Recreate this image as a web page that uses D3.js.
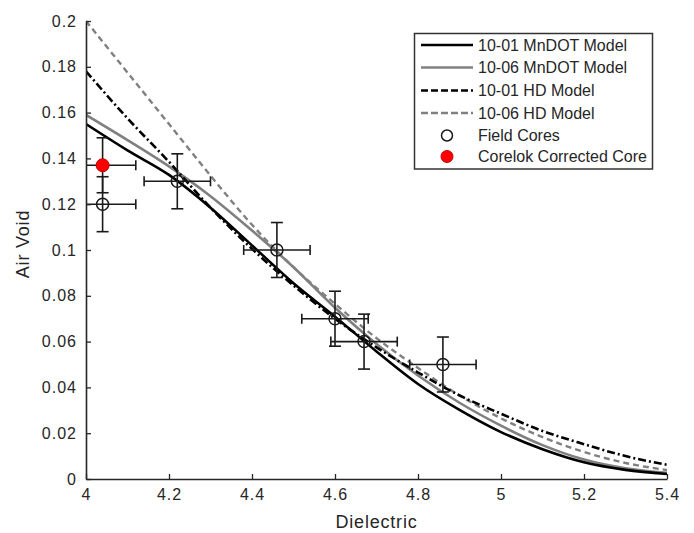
<!DOCTYPE html>
<html><head><meta charset="utf-8">
<script src="https://cdn.jsdelivr.net/npm/d3@7/dist/d3.min.js"></script>
<style>
html,body{margin:0;padding:0;background:#fff;}
text{font-family:"Liberation Sans",Arial,Helvetica,sans-serif;fill:#262626;}
</style></head>
<body>
<svg id="chart" width="694" height="533"></svg>
<script>
// ---- data ----
const dielectric = [4.0,4.1,4.2,4.3,4.4,4.5,4.6,4.7,4.8,4.9,5.0,5.1,5.2,5.3,5.4];
const mndot1001 = [0.155,0.1435,0.1328,0.1185,0.1020,0.0855,0.0709,0.0557,0.0415,0.0302,0.0205,0.0130,0.0073,0.0040,0.0022];
const mndot1006 = [0.159,0.148,0.1365,0.1235,0.1085,0.0925,0.0748,0.059,0.0452,0.0333,0.0233,0.0148,0.0085,0.0047,0.0027];
const hd1001 = [0.178,0.1575,0.1385,0.1185,0.1005,0.0845,0.0700,0.0575,0.0465,0.0365,0.0285,0.0210,0.0152,0.0100,0.0062];
const hd1006 = [0.200,0.1775,0.155,0.1325,0.111,0.0925,0.0765,0.0615,0.0485,0.0365,0.0265,0.0183,0.0118,0.0070,0.0039];
const coreX = [4.04,4.22,4.46,4.60,4.67,4.86];
const coreY = [0.12,0.13,0.10,0.07,0.06,0.05];
const coreXErr = [0.08,0.08,0.08,0.08,0.08,0.08];
const coreYErr = [0.012,0.012,0.012,0.012,0.012,0.012];
const corelokX = [4.04];
const corelokY = [0.137];
const corelokXErr = [0.08];
const corelokYErr = [0.012];
const xTicks = [4,4.2,4.4,4.6,4.8,5,5.2,5.4];
const yTicks = [0,0.02,0.04,0.06,0.08,0.1,0.12,0.14,0.16,0.18,0.2];
const legendLabels = ["10-01 MnDOT Model","10-06 MnDOT Model","10-01 HD Model","10-06 HD Model","Field Cores","Corelok Corrected Core"];

// ---- layout ----
const svg = d3.select("#chart");
const L = 86, R = 667, T = 21, B = 479;
const x = d3.scaleLinear().domain([4,5.4]).range([L,R]);
const y = d3.scaleLinear().domain([0,0.2]).range([B,T]);
const GREY = "#808080", AX = "#262626";

svg.append("defs").append("clipPath").attr("id","clip")
  .append("rect").attr("x",L).attr("y",T-2).attr("width",R-L+2).attr("height",B-T+2);

const plot = svg.append("g").attr("clip-path","url(#clip)");

const series = [
  {vals: mndot1001, color:"#000", w:2.6, dash:null},
  {vals: mndot1006, color:GREY, w:2.6, dash:null},
  {vals: hd1001, color:"#000", w:2.6, dash:"8,3,2,3"},
  {vals: hd1006, color:GREY, w:2.4, dash:"6,4"}
];
const line = d3.line().curve(d3.curveMonotoneX);
// draw order: grey first so black on top similar to reference
[series[3],series[1],series[2],series[0]].forEach(s=>{
  plot.append("path")
    .attr("d", line(dielectric.map((d,i)=>[x(d), y(s.vals[i])])))
    .attr("fill","none").attr("stroke",s.color).attr("stroke-width",s.w)
    .attr("stroke-dasharray",s.dash);
});

function errorBars(xs, ys, xe, ye){
  const g = plot.append("g").attr("stroke","#1a1a1a").attr("stroke-width",1.6).attr("fill","none");
  xs.forEach((xv,i)=>{
    const cx=x(xv), cy=y(ys[i]);
    const x0=x(xv-xe[i]), x1=x(xv+xe[i]), y0=y(ys[i]-ye[i]), y1=y(ys[i]+ye[i]);
    g.append("line").attr("x1",x0).attr("x2",x1).attr("y1",cy).attr("y2",cy);
    g.append("line").attr("x1",x0).attr("x2",x0).attr("y1",cy-5).attr("y2",cy+5);
    g.append("line").attr("x1",x1).attr("x2",x1).attr("y1",cy-5).attr("y2",cy+5);
    g.append("line").attr("x1",cx).attr("x2",cx).attr("y1",y0).attr("y2",y1);
    g.append("line").attr("x1",cx-6).attr("x2",cx+6).attr("y1",y0).attr("y2",y0);
    g.append("line").attr("x1",cx-6).attr("x2",cx+6).attr("y1",y1).attr("y2",y1);
  });
}
errorBars(coreX, coreY, coreXErr, coreYErr);
errorBars(corelokX, corelokY, corelokXErr, corelokYErr);

plot.selectAll("circle.core").data(coreX).enter().append("circle")
  .attr("cx",(d)=>x(d)).attr("cy",(d,i)=>y(coreY[i])).attr("r",6)
  .attr("fill","none").attr("stroke","#1a1a1a").attr("stroke-width",1.5);
plot.selectAll("circle.corelok").data(corelokX).enter().append("circle")
  .attr("cx",(d)=>x(d)).attr("cy",(d,i)=>y(corelokY[i])).attr("r",6.5)
  .attr("fill","#ff0000").attr("stroke","#c00000").attr("stroke-width",1);

// ---- axes ----
const xAxis = d3.axisBottom(x).tickValues(xTicks).tickSizeInner(-5).tickSizeOuter(0)
  .tickPadding(10).tickFormat(d3.format("~g"));
const gx = svg.append("g").attr("transform",`translate(0,${B})`).call(xAxis);
const yAxis = d3.axisLeft(y).tickValues(yTicks).tickSizeInner(-5).tickSizeOuter(0)
  .tickPadding(9).tickFormat(d3.format("~g"));
const gy = svg.append("g").attr("transform",`translate(${L},0)`).call(yAxis);
[gx,gy].forEach(g=>{
  g.select(".domain").attr("stroke",AX).attr("stroke-width",1.6);
  g.selectAll(".tick line").attr("stroke",AX).attr("stroke-width",1.3);
  g.selectAll("text").attr("font-size",16).attr("fill",AX)
    .attr("font-family","Liberation Sans, Arial, sans-serif").style("letter-spacing","1px");
});
gx.selectAll("text").attr("dy","0.71em");

svg.append("text").attr("x",(L+R)/2).attr("y",528).attr("text-anchor","middle")
  .attr("font-size",18).style("letter-spacing","0.8px").text("Dielectric");
svg.append("text").attr("transform",`translate(29,${(T+B)/2 - 6}) rotate(-90)`)
  .attr("text-anchor","middle").attr("font-size",18).style("letter-spacing","0.8px").text("Air Void");

// ---- legend ----
const lg = svg.append("g");
lg.append("rect").attr("x",414.5).attr("y",33.5).attr("width",238).attr("height",135.5)
  .attr("fill","#fff").attr("stroke","#333").attr("stroke-width",1.5);
const rowY = [45,67.5,90.5,113,135.5,156.5];
series.forEach((s,i)=>{
  lg.append("line").attr("x1",421).attr("x2",473).attr("y1",rowY[i]).attr("y2",rowY[i])
    .attr("stroke",s.color).attr("stroke-width",s.w).attr("stroke-dasharray",s.dash ? "7,3" : null);
});
lg.append("circle").attr("cx",447).attr("cy",rowY[4]).attr("r",5.5)
  .attr("fill","none").attr("stroke","#1a1a1a").attr("stroke-width",1.5);
lg.append("circle").attr("cx",447).attr("cy",rowY[5]).attr("r",6)
  .attr("fill","#ff0000").attr("stroke","#c00000").attr("stroke-width",1);
legendLabels.forEach((t,i)=>{
  lg.append("text").attr("x",478).attr("y",rowY[i]).attr("dy","0.36em")
    .attr("font-size",16).text(t);
});
</script>
</body></html>
